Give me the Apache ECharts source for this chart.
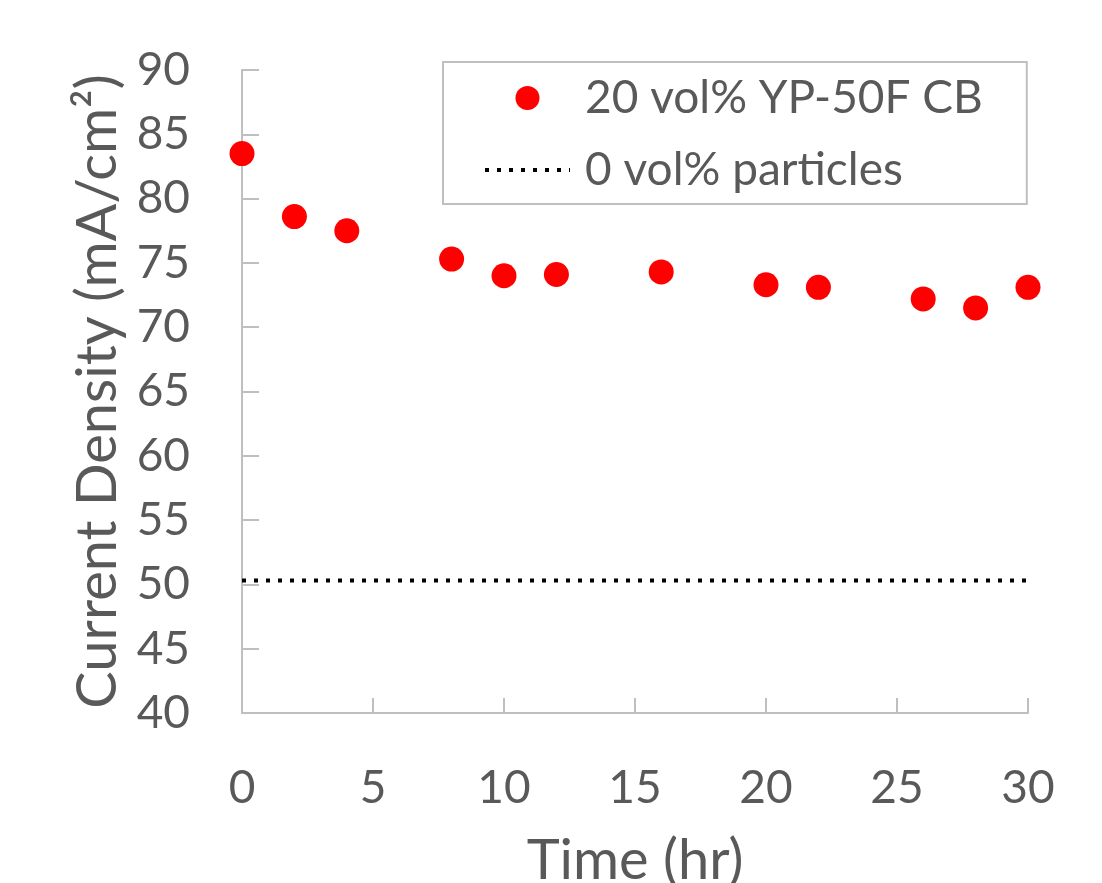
<!DOCTYPE html>
<html>
<head>
<meta charset="utf-8">
<script src="https://cdn.jsdelivr.net/npm/echarts@6/dist/echarts.min.js"></script>
<style>
  html, body { margin: 0; padding: 0; background: #fff; }
  #chart { width: 1102px; height: 883px; }
</style>
</head>
<body>
<div id="chart"></div>
<script>
// data
const timeHr = [0, 2, 4, 8, 10, 12, 16, 20, 22, 26, 28, 30];
const currentDensity = [83.5, 78.6, 77.5, 75.3, 74.0, 74.1, 74.3, 73.3, 73.1, 72.2, 71.5, 73.1];
const baselineX = [0, 30];
const baselineY = [50.3, 50.3];
const seriesNames = ['20 vol% YP-50F CB', '0 vol% particles'];

const textColor = '#595959';
const axisColor = '#bfbfbf';
const fontFamily = 'Lato';
const dotLine = { color: '#000000', width: 4, type: [4, 8] };

const chart = echarts.init(document.getElementById('chart'));
const option = {
  animation: false,
  textStyle: { fontFamily: fontFamily, color: textColor },
  grid: { left: 242, right: 74, top: 70, bottom: 170, outerBoundsMode: 'none', containLabel: false },
  legend: {
    orient: 'vertical',
    left: 443,
    top: 62,
    data: [
      { name: seriesNames[0] },
      {
        name: seriesNames[1],
        itemStyle: { color: 'rgba(0,0,0,0)', borderWidth: 0 },
        lineStyle: dotLine
      }
    ],
    itemWidth: 85,
    itemHeight: 24,
    itemGap: 26,
    padding: [13, 44, 11, 40],
    borderColor: axisColor,
    borderWidth: 2,
    textStyle: { fontSize: 46, color: textColor, fontFamily: fontFamily, padding: [0, 0, 0, 10] }
  },
  xAxis: {
    type: 'value',
    min: 0,
    max: 30,
    interval: 5,
    name: 'Time (hr)',
    nameLocation: 'middle',
    nameGap: 120,
    nameTextStyle: { fontSize: 56, color: textColor },
    axisLine: { lineStyle: { color: axisColor, width: 2 } },
    axisTick: { inside: true, length: 15, lineStyle: { color: axisColor, width: 2 } },
    axisLabel: { fontSize: 46, color: textColor, margin: 52 },
    splitLine: { show: false }
  },
  yAxis: {
    type: 'value',
    min: 40,
    max: 90,
    interval: 5,
    name: 'Current Density (mA/cm²)',
    nameLocation: 'middle',
    nameGap: 116,
    nameTextStyle: { fontSize: 56, color: textColor },
    axisLine: { show: true, lineStyle: { color: axisColor, width: 2 } },
    axisTick: { show: true, inside: true, length: 17, lineStyle: { color: axisColor, width: 2 } },
    axisLabel: { fontSize: 46, color: textColor, margin: 52 },
    splitLine: { show: false }
  },
  series: [
    {
      name: seriesNames[0],
      type: 'scatter',
      symbol: 'circle',
      symbolSize: 25,
      itemStyle: { color: '#ff0000', opacity: 1 },
      data: timeHr.map((t, i) => [t, currentDensity[i]])
    },
    {
      name: seriesNames[1],
      type: 'line',
      symbol: 'none',
      lineStyle: dotLine,
      itemStyle: { color: '#000000' },
      data: baselineX.map((t, i) => [t, baselineY[i]])
    }
  ]
};
chart.setOption(option);
window.addEventListener('resize', () => {
  chart.resize();
});
</script>
</body>
</html>
